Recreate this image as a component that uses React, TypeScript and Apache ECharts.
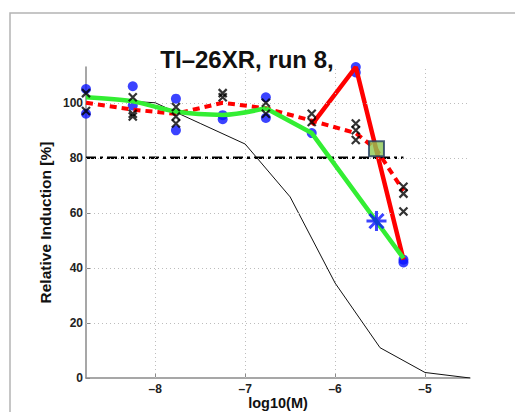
import React, { useEffect, useRef } from "react";
import * as echarts from "echarts";

const titleText = "TI–26XR, run 8,";
const xLabel = "log10(M)";
const yLabel = "Relative Induction [%]";

const xTicks = [-8, -7, -6, -5];
const yTicks = [0, 20, 40, 60, 80, 100];

const doseX = [-8.77, -8.25, -7.77, -7.25, -6.77, -6.26, -5.77, -5.24];
const blueReps = [[105, 96], [106, 99], [101.5, 90], [95.5, 94], [102, 94.5], [89], [113, 111], [43, 42]];
const crossReps = [[103.5, 97], [102, 96, 95], [98.5, 95, 92.5], [103.5, 102], [100, 96], [96, 93], [92.5, 90, 86.5], [69.5, 67, 60.5]];

// green fit: smooth upper part, straight lower part
const greenTopX = [-8.77, -8.25, -7.77, -7.25, -6.77];
const greenTopY = [102, 100.5, 96.8, 95.6, 98];
const greenLowX = [-6.77, -6.26, -5.24];
const greenLowY = [98, 89, 43.5];

const redDashX = [-8.77, -8.25, -7.77, -7.25, -6.77, -6.26, -5.77, -5.54, -5.24];
const redDashY = [100, 97.5, 96, 100, 98, 93.5, 89, 83, 68];

const redSolidX = [-6.26, -5.77, -5.24];
const redSolidY = [92, 113, 43];

const refX = [-8.5, -8, -7.5, -7, -6.5, -6, -5.5, -5, -4.5];
const refY = [101, 100, 92.5, 85, 65.8, 34.5, 11, 2, 0];

const thresholdX = [-8.77, -5.24];
const thresholdY = [80, 80];

const squarePt = [-5.54, 83.3];
const starPt = [-5.54, 57];

const zip = (xs: number[], ys: number[]) => xs.map((x, i) => [x, ys[i]]);

const asterisk =
  "path://M-10,-1.5H10V1.5H-10Z M-1.5,-10H1.5V10H-1.5Z M-6.01,-8.13L8.13,6.01L6.01,8.13L-8.13,-6.01Z M-8.13,6.01L6.01,-8.13L8.13,-6.01L-6.01,8.13Z";

const fmt = (v: number) => String(v).replace("-", "–");

export default function App() {
  const ref = useRef<HTMLDivElement>(null);
  useEffect(() => {
    document.body.style.margin = "0";
    const chart = echarts.init(ref.current!, undefined, { renderer: "svg" });
    const blueData: number[][] = [];
    blueReps.forEach((ys, i) => ys.forEach((y) => blueData.push([doseX[i], y])));
    const crossData: number[][] = [];
    crossReps.forEach((ys, i) => ys.forEach((y) => crossData.push([doseX[i], y])));
    const font = "Liberation Sans, Arial, Helvetica, sans-serif";
    const gridLine = { type: [1, 3], color: "#bdbdbd", width: 1 };
    const green = "#33ee33";
    chart.setOption({
      animation: false,
      backgroundColor: "#fff",
      textStyle: { fontFamily: font },
      title: {
        text: titleText,
        left: 242,
        top: 42,
        textAlign: "center",
        textStyle: { fontSize: 24, fontWeight: "bold", color: "#111", fontFamily: font },
      },
      graphic: [
        {
          type: "rect",
          shape: { x: 10, y: 13, width: 620, height: 500 },
          style: { fill: "none", stroke: "#b4b4b4", lineWidth: 1.5 },
          z: -10,
        },
      ],
      grid: { left: 86, top: 67, right: 45, bottom: 34, containLabel: false, outerBoundsMode: "none" },
      xAxis: {
        type: "value",
        min: -8.77,
        max: -4.5,
        name: xLabel,
        nameLocation: "middle",
        nameGap: 17,
        nameMoveOverlap: false,
        nameTextStyle: { fontSize: 14.5, fontWeight: "bold", color: "#111" },
        axisLine: { lineStyle: { color: "#8a8a8a", width: 1.5 } },
        axisTick: { inside: true, length: 4, customValues: xTicks, lineStyle: { color: "#8a8a8a" } },
        axisLabel: { customValues: xTicks, formatter: fmt, fontSize: 12, fontWeight: "bold", color: "#222", margin: 5 },
        splitLine: { show: false },
      },
      yAxis: {
        type: "value",
        min: 0,
        max: 113,
        name: yLabel,
        nameLocation: "middle",
        nameGap: 33,
        nameMoveOverlap: false,
        nameTextStyle: { fontSize: 15.5, fontWeight: "bold", color: "#111" },
        axisLine: { show: true, lineStyle: { color: "#8a8a8a", width: 1.5 } },
        axisTick: { show: true, inside: true, length: 4, customValues: yTicks, lineStyle: { color: "#8a8a8a" } },
        axisLabel: { customValues: yTicks, fontSize: 12, fontWeight: "bold", color: "#222", margin: 3 },
        splitLine: { show: false },
      },
      series: [
        {
          type: "line",
          data: zip(refX, refY),
          symbol: "none",
          lineStyle: { color: "#111", width: 1 },
          z: 1,
          markLine: {
            silent: true,
            symbol: ["none", "none"],
            label: { show: false },
            lineStyle: gridLine,
            data: [
              ...xTicks.map((v) => ({ xAxis: v })),
              ...yTicks.filter((v) => v > 0).map((v) => ({ yAxis: v })),
            ],
          },
        },
        {
          type: "line",
          data: zip(thresholdX, thresholdY),
          symbol: "none",
          lineStyle: { color: "#000", width: 2.5, type: [10, 4, 3, 4] },
          z: 2,
        },
        {
          type: "scatter",
          data: blueData,
          symbol: "circle",
          symbolSize: 10,
          itemStyle: { color: "#0a14ff" },
          z: 3,
        },
        {
          type: "line",
          data: zip(redSolidX, redSolidY),
          symbol: "none",
          lineStyle: { color: "#ff0000", width: 4.5 },
          z: 4,
        },
        {
          type: "line",
          data: zip(redDashX, redDashY),
          symbol: "none",
          lineStyle: { color: "#ff0000", width: 4, type: [7, 5] },
          z: 5,
        },
        {
          type: "line",
          data: zip(greenTopX, greenTopY),
          symbol: "none",
          smooth: 0.3,
          lineStyle: { color: green, width: 4.5 },
          z: 6,
        },
        {
          type: "line",
          data: zip(greenLowX, greenLowY),
          symbol: "none",
          lineStyle: { color: green, width: 4.5 },
          z: 6,
        },
        {
          type: "scatter",
          data: crossData,
          symbol: "path://M0,0L10,10M10,0L0,10",
          symbolSize: 8,
          itemStyle: { color: "none", borderColor: "#000", borderWidth: 2.2 },
          z: 7,
        },
        {
          type: "scatter",
          data: [squarePt],
          symbol: "rect",
          symbolSize: 15,
          itemStyle: { color: "#8dc853", borderColor: "#1f3a5f", borderWidth: 2 },
          z: 8,
        },
        {
          type: "scatter",
          data: [starPt],
          symbol: asterisk,
          symbolSize: 20,
          itemStyle: { color: "#0a14ff" },
          z: 8,
        },
      ],
    });
    return () => chart.dispose();
  }, []);
  return <div ref={ref} style={{ position: "fixed", left: 0, top: 0, width: 515, height: 412 }} />;
}
